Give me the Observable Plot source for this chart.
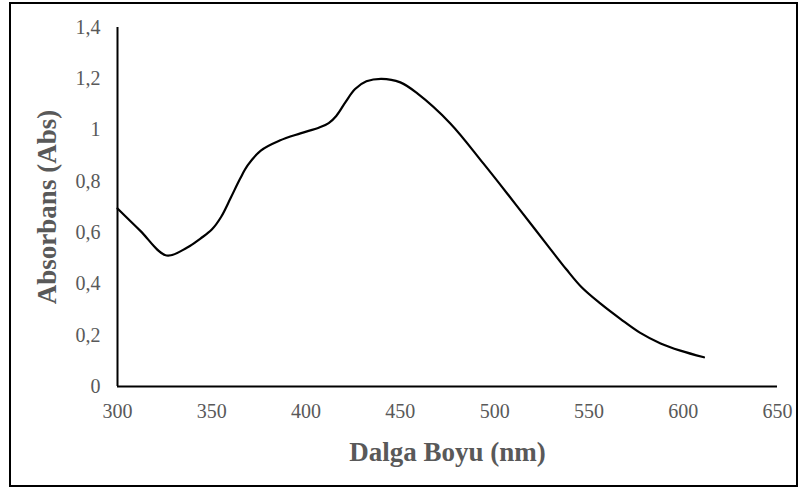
<!DOCTYPE html>
<html>
<head>
<meta charset="utf-8">
<script src="https://cdn.jsdelivr.net/npm/d3@7"></script>
<script src="https://cdn.jsdelivr.net/npm/@observablehq/plot@0.6"></script>
<style>
  html, body { margin: 0; padding: 0; background: #fff; }
  #wrap { position: relative; width: 807px; height: 490px; }
  #border { position: absolute; left: 9px; top: 2px; width: 785px; height: 481px; border: 2px solid #000; pointer-events: none; }
</style>
</head>
<body>
<div id="wrap"><div id="border"></div></div>
<script>
const wavelength = [300, 312, 326, 337, 344, 350, 355, 360, 365, 369, 376, 386, 397, 407, 412, 416, 421, 426, 432, 440, 450, 459, 476.5, 494, 508, 521, 530, 538, 546, 556, 567, 577, 588, 598.5, 611];
const absorbance = [0.694, 0.608, 0.511, 0.542, 0.577, 0.612, 0.662, 0.735, 0.81, 0.862, 0.92, 0.959, 0.987, 1.01, 1.027, 1.055, 1.11, 1.16, 1.19, 1.20, 1.186, 1.143, 1.026, 0.87, 0.74, 0.617, 0.532, 0.457, 0.388, 0.324, 0.262, 0.21, 0.168, 0.14, 0.114];
const xTicks = [300, 350, 400, 450, 500, 550, 600, 650];
const yTicks = [0, 0.2, 0.4, 0.6, 0.8, 1, 1.2, 1.4];
const xTitle = "Dalga Boyu (nm)";
const yTitle = "Absorbans (Abs)";

const data = wavelength.map((w, i) => ({w, a: absorbance[i]}));
const fmt = d => String(d).replace(".", ",");

const chart = Plot.plot({
  width: 807,
  height: 490,
  marginLeft: 117,
  marginRight: 30,
  marginTop: 27,
  marginBottom: 104,
  style: {fontFamily: "'Liberation Serif', 'Times New Roman', serif", fontSize: "20px", color: "#595959", background: "transparent"},
  x: {domain: [300, 650]},
  y: {domain: [0, 1.4]},
  marks: [
    Plot.axisX({ticks: xTicks, tickSize: 0, tickPadding: 17, tickFormat: fmt, label: null, fill: "#595959", fontSize: 20}),
    Plot.axisY({ticks: yTicks, tickSize: 0, tickPadding: 17, tickFormat: fmt, label: null, fill: "#595959", fontSize: 20}),
    Plot.text([xTitle], {frameAnchor: "bottom", dy: 66, fontSize: 27, fontWeight: "bold", fill: "#595959", lineAnchor: "middle"}),
    Plot.text([yTitle], {frameAnchor: "left", dx: -70, rotate: -90, textAnchor: "middle", fontSize: 27, fontWeight: "bold", fill: "#595959", lineAnchor: "middle"}),
    Plot.ruleX([300], {y1: 0, y2: 1.4, stroke: "#000", strokeWidth: 2}),
    Plot.ruleY([0], {x1: 300, x2: 650, stroke: "#000", strokeWidth: 2}),
    Plot.line(data, {x: "w", y: "a", curve: "catmull-rom", stroke: "#000", strokeWidth: 2.2})
  ]
});
document.getElementById("wrap").prepend(chart);
</script>
</body>
</html>
